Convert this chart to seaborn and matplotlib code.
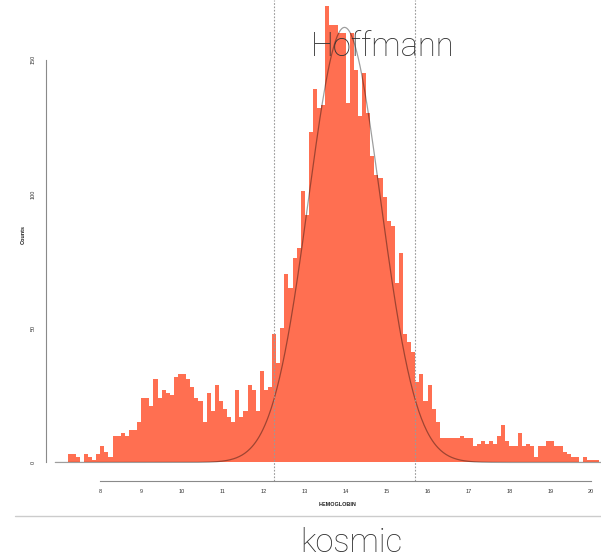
import numpy as np
import pandas as pd
import matplotlib
matplotlib.use("Agg")
import matplotlib.pyplot as plt
from matplotlib.lines import Line2D
import seaborn as sns

# ---- data ----
bin_start = 7.2
bin_width = 0.1
counts = [
    3, 3, 2, 0, 3, 2, 1, 3, 6, 4,            # 7.2 - 8.1
    2, 10, 10, 11, 10, 12, 12, 15, 24, 24,   # 8.2 - 9.1
    21, 31, 24, 27, 26, 25, 32, 33, 33, 31,  # 9.2 - 10.1
    28, 24, 23, 15, 26, 19, 29, 23, 20, 17,  # 10.2 - 11.1
    15, 27, 17, 19, 29, 27, 19, 34, 27, 28,  # 11.2 - 12.1
    48, 37, 50, 70, 65, 76, 80, 101, 92, 123,   # 12.2 - 13.1
    139, 132, 133, 170, 163, 163, 160, 160, 134, 160,  # 13.2 - 14.1
    146, 129, 145, 130, 114, 107, 106, 99, 90, 88,   # 14.2 - 15.1
    67, 78, 48, 45, 41,                       # 15.2 - 15.6
    30, 33, 23, 29, 20,                       # 15.7 - 16.1
    15, 9, 9, 9, 9, 9, 10, 9, 9, 6,           # 16.2 - 17.1
    7, 8, 7, 8, 7, 10, 14, 8, 6, 6,           # 17.2 - 18.1
    11, 6, 7, 6, 2, 6, 6, 8, 8, 6,            # 18.2 - 19.1
    6, 4, 3, 2, 2, 0, 2, 1, 1, 1,             # 19.2 - 20.1
]
fit_mean = 13.97
fit_sd = 0.878
fit_peak = 162
ref_limits = [12.25, 15.69]
x_ticks = [8, 9, 10, 11, 12, 13, 14, 15, 16, 17, 18, 19, 20]
y_ticks = [0, 50, 100, 150]
x_label = "HEMOGLOBIN"
y_label = "Counts"
top_title = "Hoffmann"
bottom_title = "kosmic"

n_bins = len(counts)
bin_end = round(bin_start + bin_width * n_bins, 2)
centers = np.round(bin_start + bin_width * (np.arange(n_bins) + 0.5), 3)
df = pd.DataFrame({"hb": centers, "n": np.array(counts, dtype=float)})

curve_x = np.linspace(6.9, 20.3, 600)
curve_y = fit_peak * np.exp(-0.5 * ((curve_x - fit_mean) / fit_sd) ** 2)

# ---- figure ----
sns.set_style("white")
plt.rcParams["font.family"] = ["Liberation Sans", "DejaVu Sans"]

W, H = 601, 558
fig = plt.figure(figsize=(W / 100, H / 100), dpi=100)
ax = fig.add_axes([45.7 / W, 77 / H, (W - 45.7) / W, 481 / H])
ax.patch.set_alpha(0)

sns.histplot(data=df, x="hb", weights="n", bins=n_bins,
             binrange=(bin_start, bin_end), element="step",
             fill=True, color="#FF6F51", alpha=1, linewidth=0, ax=ax)
sns.lineplot(x=curve_x, y=curve_y, color="black", alpha=0.38, linewidth=0.9, ax=ax)
for v in ref_limits:
    ax.axvline(v, color="#9a9a9a", linestyle=(0, (1.5, 1.5)), linewidth=0.8)

ax.set_xlim(6.665, 20.24)
ax.set_ylim(-6.9, 172.2)
ax.set_xticks(x_ticks)
ax.set_yticks(y_ticks)
ax.set_xticklabels([str(t) for t in x_ticks])
ax.set_yticklabels([str(t) for t in y_ticks])

for s in ["top", "right"]:
    ax.spines[s].set_visible(False)
ax.spines["left"].set_bounds(0, 150)
ax.spines["bottom"].set_bounds(8, 20)
for s in ["left", "bottom"]:
    ax.spines[s].set_color("#8a8a8a")
    ax.spines[s].set_linewidth(0.8)

ax.tick_params(axis="both", length=3, width=0.8, color="#8a8a8a",
               labelsize=4, labelcolor="#333333", direction="out")
ax.tick_params(axis="y", pad=4.2, labelrotation=90)
ax.tick_params(axis="x", pad=3)
for lab in ax.get_yticklabels():
    lab.set_va("center")

ax.set_xlabel(x_label, fontsize=4, fontweight="bold", color="#222222")
ax.set_ylabel(y_label, fontsize=4, fontweight="bold", color="#222222")
ax.xaxis.set_label_coords((338 - 45.7) / (W - 45.7), (481 - 505) / 481)
ax.xaxis.label.set_va("center")
ax.yaxis.set_label_coords((23 - 45.7) / (W - 45.7), (481 - 235) / 481)
ax.yaxis.label.set_va("center")
ax.grid(False)

# separator line and slide captions
fig.add_artist(Line2D([15 / W, 1.0], [1 - 516 / H, 1 - 516 / H],
                      color="#cccccc", linewidth=1))
fig.text(383 / W, 1 - 56.5 / H, top_title, ha="center", va="baseline",
         fontsize=23.5, family=["Roboto", "DejaVu Sans"], fontweight="light",
         color="#333333")
fig.text(351 / W, 1 - 552.5 / H, bottom_title, ha="center", va="baseline",
         fontsize=23.5, family=["Roboto", "DejaVu Sans"], fontweight="light",
         color="#333333")

fig.savefig("out.png", dpi=100)
